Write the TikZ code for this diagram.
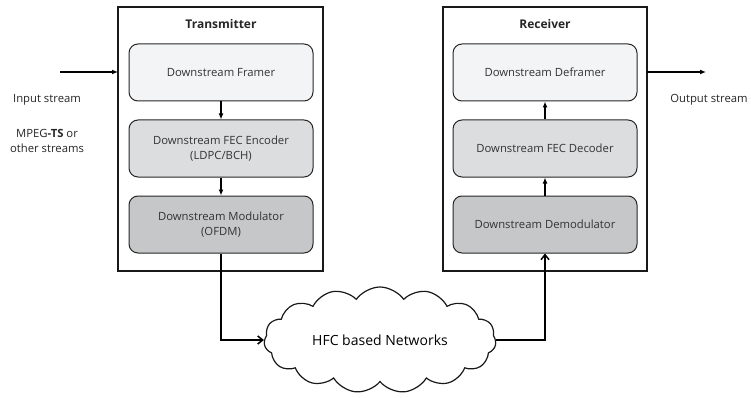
\documentclass[tikz,border=0pt]{standalone}
\usepackage{fontspec}
\setmainfont{Open Sans}
\usetikzlibrary{arrows.meta,shapes.symbols}
\definecolor{fa}{HTML}{F3F4F5}
\definecolor{fb}{HTML}{DCDDDE}
\definecolor{fc}{HTML}{C6C7C8}
\tikzset{
  outer/.style={draw=black!90,line width=2pt},
  block/.style={draw=black!85,line width=1pt,rounded corners=9pt,minimum width=184pt,minimum height=57pt,align=center,font=\fontsize{11.3}{15}\selectfont,text=black!80},
  link/.style={line width=1.3pt,-{Latex[length=6pt,width=5pt]}},
  netlink/.style={line width=1.5pt,-{Straight Barb[length=5pt,width=8pt]}},
  lbl/.style={font=\fontsize{11.3}{15}\selectfont,text=black!85,align=center},
  ttl/.style={font=\fontsize{12}{14}\selectfont\bfseries,text=black!85},
}
\begin{document}
\begin{tikzpicture}[x=1pt,y=-1pt]
\useasboundingbox (0,0) rectangle (751,398);
% boxes
\draw[outer] (118,7) rectangle (323,271);
\draw[outer] (443,7) rectangle (647,271);
\node[ttl] (tt) at (221,24) {Transmitter};
\node[ttl] (rt) at (545,24) {Receiver};
\node[block,fill=fa] (f) at (221,72.5) {Downstream Framer};
\node[block,fill=fb] (e) at (221,148.5) {Downstream FEC Encoder\\(LDPC/BCH)};
\node[block,fill=fc] (m) at (221,224.5) {Downstream Modulator\\(OFDM)};
\node[block,fill=fa] (d) at (545,72.5) {Downstream Deframer};
\node[block,fill=fb] (dc) at (545,148.5) {Downstream FEC Decoder};
\node[block,fill=fc] (dm) at (545,224.5) {Downstream Demodulator};
\draw[link] (f) -- (e);
\draw[link] (e) -- (m);
\draw[link] (dm) -- (dc);
\draw[link] (dc) -- (d);
% input/output
\coordinate (in0) at (60,72);
\coordinate (inb) at (118,72);
\coordinate (outa) at (647,72);
\coordinate (out1) at (706,72);
\draw[link] (in0) -- (inb);
\draw[link] (outa) -- (out1);
\node[lbl] (il) at (47,100) {Input stream};
\node[lbl,align=center] (ml) at (47,141) {MPEG\textbf{-TS} or\\other streams};
\node[lbl] (ol) at (709,100) {Output stream};
% cloud
\node[cloud,draw=black!90,line width=1.2pt,cloud puffs=15,cloud puff arc=110,aspect=2.3,minimum width=232pt,minimum height=106pt,font=\fontsize{14}{16}\selectfont,inner sep=0pt] (c) at (380,340) {HFC based Networks};
\draw[netlink] (m.south) |- (c.west);
\draw[netlink] (c.east) -| (dm.south);
\end{tikzpicture}
\end{document}
